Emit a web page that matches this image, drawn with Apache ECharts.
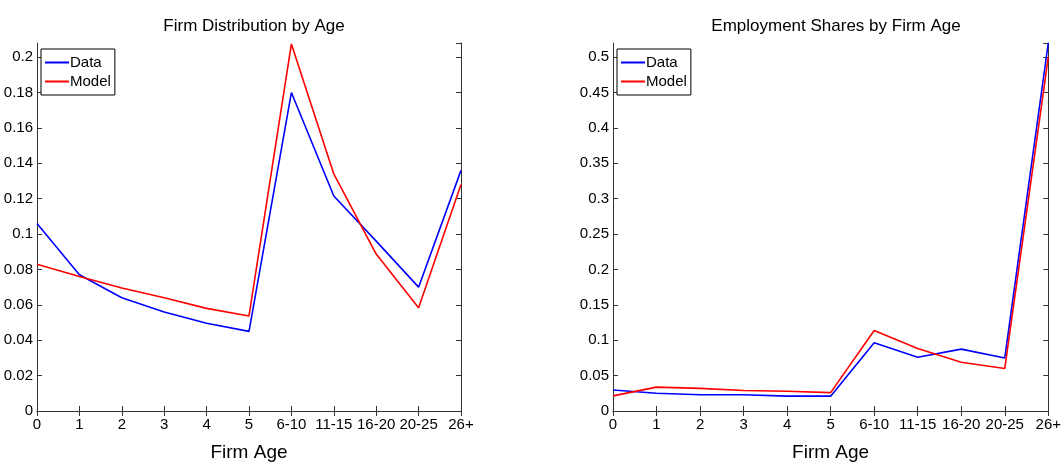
<!DOCTYPE html>
<html><head><meta charset="utf-8">
<script src="https://cdn.jsdelivr.net/npm/echarts@6/dist/echarts.min.js"></script>
<style>html,body{margin:0;padding:0;background:#fff}#c{width:1064px;height:467px}</style>
</head><body><div id="c"></div>
<script>
const categories = ['0','1','2','3','4','5','6-10','11-15','16-20','20-25','26+'];
const firmDistData  = [0.106, 0.077, 0.064, 0.056, 0.0496, 0.045, 0.180, 0.1215, 0.096, 0.070, 0.136];
const firmDistModel = [0.083, 0.076, 0.0695, 0.064, 0.058, 0.0537, 0.2075, 0.134, 0.0887, 0.0583, 0.128];
const empShareData  = [0.0296, 0.025, 0.023, 0.023, 0.021, 0.021, 0.0966, 0.076, 0.0874, 0.075, 0.52];
const empShareModel = [0.0214, 0.0337, 0.032, 0.029, 0.028, 0.026, 0.1138, 0.0883, 0.069, 0.060, 0.50];
const leftTitle = 'Firm Distribution by Age';
const rightTitle = 'Employment Shares by Firm Age';
const xName = 'Firm Age';

const FONT = '"Liberation Sans Narrow", "Liberation Sans", Arial, sans-serif';
const AX = '#333';
const chart = echarts.init(document.getElementById('c'), null, {renderer:'canvas'});

function xAxes(gi){
  return [{
    type:'category', gridIndex:gi, data:categories, boundaryGap:false, position:'bottom',
    axisLine:{lineStyle:{color:AX,width:1}},
    axisTick:{inside:true,length:5,lineStyle:{color:AX}},
    axisLabel:{color:'#000',fontFamily:FONT,fontSize:15,margin:6,interval:0},
    name:xName, nameLocation:'middle', nameGap:32,
    nameTextStyle:{color:'#000',fontFamily:FONT,fontSize:19},
    splitLine:{show:false}
  },{
    type:'category', gridIndex:gi, data:categories, boundaryGap:false, position:'top',
    axisLine:{lineStyle:{color:AX,width:1}},
    axisTick:{inside:true,length:5,lineStyle:{color:AX}},
    axisLabel:{show:false}, splitLine:{show:false}
  }];
}
function yAxes(gi,max,interval,fmt){
  return [{
    type:'value', gridIndex:gi, min:0, max:max, interval:interval, position:'left',
    axisLine:{show:true,lineStyle:{color:AX,width:1}},
    axisTick:{show:true,inside:true,length:5,lineStyle:{color:AX}},
    axisLabel:{color:'#000',fontFamily:FONT,fontSize:15,margin:4,formatter:fmt},
    splitLine:{show:false}
  },{
    type:'value', gridIndex:gi, min:0, max:max, interval:interval, position:'right',
    axisLine:{show:true,lineStyle:{color:AX,width:1}},
    axisTick:{show:true,inside:true,length:5,lineStyle:{color:AX}},
    axisLabel:{show:false}, splitLine:{show:false}
  }];
}
const fmt = v => String(parseFloat(v.toFixed(4)));

function legend(left){
  return {
    orient:'vertical', left:left, top:49,
    data:[{name:'Data',icon:'rect'},{name:'Model',icon:'rect'}],
    borderColor:'#000', borderWidth:1, borderRadius:0, padding:[6,4,6,4],
    itemWidth:24, itemHeight:2, itemGap:4,
    textStyle:{color:'#000',fontFamily:FONT,fontSize:15,padding:[0,0,0,-4]},
    backgroundColor:'#fff'
  };
}
function line(name,data,xi,yi,color){
  return {type:'line',name:name,data:data,xAxisIndex:xi,yAxisIndex:yi,
    symbol:'none',showSymbol:false,lineStyle:{color:color,width:1.6},itemStyle:{color:color},
    animation:false};
}

chart.setOption({
  animation:false,
  title:[
    {text:leftTitle,left:249,top:13,textAlign:'center',textStyle:{fontFamily:FONT,fontSize:17,fontWeight:'normal',color:'#000'}},
    {text:rightTitle,left:831,top:13,textAlign:'center',textStyle:{fontFamily:FONT,fontSize:17,fontWeight:'normal',color:'#000'}}
  ],
  grid:[
    {left:37,right:603,top:43,bottom:43,containLabel:false},
    {left:613,right:14,top:43,bottom:43,containLabel:false}
  ],
  xAxis:[...xAxes(0),...xAxes(1)],
  yAxis:[...yAxes(0,0.208,0.02,fmt),...yAxes(1,0.52,0.05,fmt)],
  legend:[legend(41),legend(617)],
  series:[
    line('Data',firmDistData,0,0,'#0000ff'),
    line('Model',firmDistModel,0,0,'#ff0000'),
    line('Data',empShareData,2,2,'#0000ff'),
    line('Model',empShareModel,2,2,'#ff0000')
  ]
});
</script></body></html>
